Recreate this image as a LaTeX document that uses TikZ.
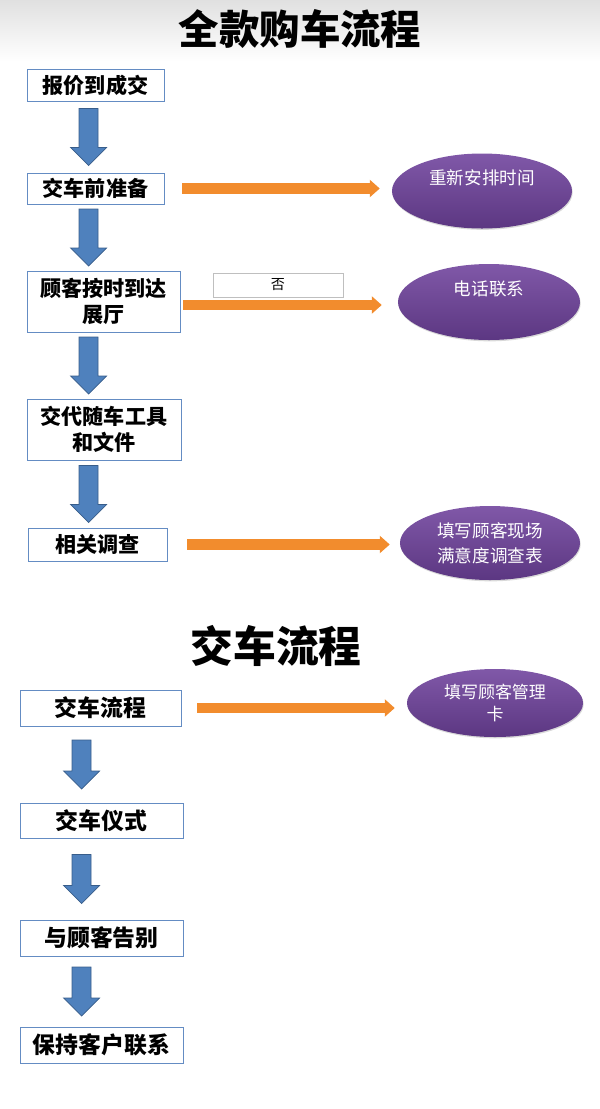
\documentclass[tikz,border=0pt]{standalone}
\usepackage{fontspec}
\setmainfont{Noto Sans CJK SC}
\usetikzlibrary{arrows.meta,calc,shapes.geometric,shadows}

\definecolor{boxedge}{RGB}{100,140,195}
\definecolor{arrowblue}{RGB}{79,129,189}
\definecolor{arrowedge}{RGB}{56,93,138}
\definecolor{arroworange}{RGB}{242,140,45}
\definecolor{ellTop}{RGB}{128,88,168}
\definecolor{ellBot}{RGB}{92,55,130}

\tikzset{
  procbox/.style={draw=boxedge, line width=0.8pt, fill=white, inner sep=1pt, align=center,
    font=\bfseries\fontsize{18}{22}\selectfont},
  bigbox/.style={procbox, font=\bfseries\fontsize{19.5}{23}\selectfont},
  notebubble/.style={ellipse, top color=ellTop, bottom color=ellBot, draw=none, text=white,
    inner sep=1pt, align=center, font=\fontsize{15}{21}\selectfont,
    drop shadow={shadow xshift=0.02cm, shadow yshift=-0.04cm, opacity=0.3}},
  raised/.style={text height=13pt, text depth=24pt},
  heading/.style={font=\bfseries\fontsize{34.5}{40}\selectfont},
  sidearrow/.style={draw=arroworange, line width=0.31cm, -{Triangle[width=0.51cm,length=0.3cm]}},
  blockdown/.style={fill=arrowblue, draw=arrowedge, line width=0.6pt,
    to path={let \p1=(\tikztostart), \p3=($(\tikztostart)!.5!(\tikztotarget)$) in
      (\x1+1.575cm,\y3+#1/2) -- (\x1+2.145cm,\y3+#1/2) -- (\x1+2.145cm,\y3-#1/2+0.54cm)
      -- (\x1+2.4cm,\y3-#1/2+0.54cm) -- (\x1+1.86cm,\y3-#1/2) -- (\x1+1.32cm,\y3-#1/2+0.54cm)
      -- (\x1+1.575cm,\y3-#1/2+0.54cm) -- cycle}}
}

\begin{document}
\begin{tikzpicture}[x=0.03cm, y=-0.03cm]
  % Canvas and soft background bands
  \useasboundingbox (0,0) rectangle (600,1109);
  \shade[top color=black!12, bottom color=white] (0,0) rectangle (600,62);
  \shade[top color=white, middle color=black!5, bottom color=white] (0,600) rectangle (600,690);

  % Titles
  \node[heading] (t1) at (300,29) {全款购车流程};
  \node[heading, font=\bfseries\fontsize{36.5}{42}\selectfont] (t2) at (276,646) {交车流程};

  % Full payment steps
  \node[procbox, minimum width=4.11cm, minimum height=0.96cm] (q1) at (95.5,85) {报价到成交};
  \node[procbox, minimum width=4.11cm, minimum height=0.93cm] (q2) at (95.5,188.5) {交车前准备};
  \node[procbox, minimum width=4.59cm, minimum height=1.83cm] (q3) at (103.5,301.5) {顾客按时到达\\展厅};
  \node[procbox, minimum width=4.62cm, minimum height=1.83cm] (q4) at (104,429.5) {交代随车工具\\和文件};
  \node[procbox, minimum width=4.17cm, minimum height=0.99cm] (q5) at (97.5,544.5) {相关调查};

  % Side results
  \node[notebubble, raised, minimum width=5.4cm, minimum height=2.25cm] (r1) at (482,191) {重新安排时间};
  \node[notebubble, raised, minimum width=5.46cm, minimum height=2.28cm] (r2) at (489,302) {电话联系};
  \node[notebubble, minimum width=5.4cm, minimum height=2.22cm] (r3) at (490,543) {填写顾客现场\\满意度调查表};
  \node[draw=black!25, fill=white, minimum width=3.9cm, minimum height=0.72cm,
    font=\fontsize{12}{14}\selectfont] (no) at (278,285) {否};

  % Handover steps
  \node[bigbox, minimum width=4.83cm, minimum height=1.08cm] (s1) at (100.5,708) {交车流程};
  \node[bigbox, minimum width=4.89cm, minimum height=1.05cm] (s2) at (101.5,820.5) {交车仪式};
  \node[bigbox, minimum width=4.89cm, minimum height=1.08cm] (s3) at (101.5,938) {与顾客告别};
  \node[bigbox, minimum width=4.89cm, minimum height=1.08cm] (s4) at (101.5,1045) {保持客户联系};
  \node[notebubble, font=\fontsize{14.5}{18}\selectfont, minimum width=5.28cm, minimum height=2.04cm]
    (r4) at (495,703) {填写顾客管理\\卡};

  % Flow arrows
  \draw[blockdown=1.71cm] (q1.south west) to (q2.north west);
  \draw[blockdown=1.71cm] (q2.south west) to (q3.north west);
  \draw[blockdown=1.71cm] (q3.south west) to (q4.north west);
  \draw[blockdown=1.71cm] (q4.south west) to (q5.north west);
  \draw[blockdown=1.47cm] (s1.south west) to (s2.north west);
  \draw[blockdown=1.47cm] (s2.south west) to (s3.north west);
  \draw[blockdown=1.47cm] (s3.south west) to (s4.north west);

  % Side arrows
  \draw[sidearrow, shorten <=0.54cm, shorten >=0.36cm] (q2.east) -- (q2.east -| r1.west);
  \draw[sidearrow, shorten <=0.09cm, shorten >=0.48cm] ($(q3.east)+(0,3.5)$) -- ($(q3.east -| r2.west)+(0,3.5)$);
  \draw[sidearrow, shorten <=0.6cm, shorten >=0.3cm] (q5.east) -- (q5.east -| r3.west);
  \draw[sidearrow, shorten <=0.48cm, shorten >=0.36cm] (s1.east) -- (s1.east -| r4.west);
\end{tikzpicture}
\end{document}
